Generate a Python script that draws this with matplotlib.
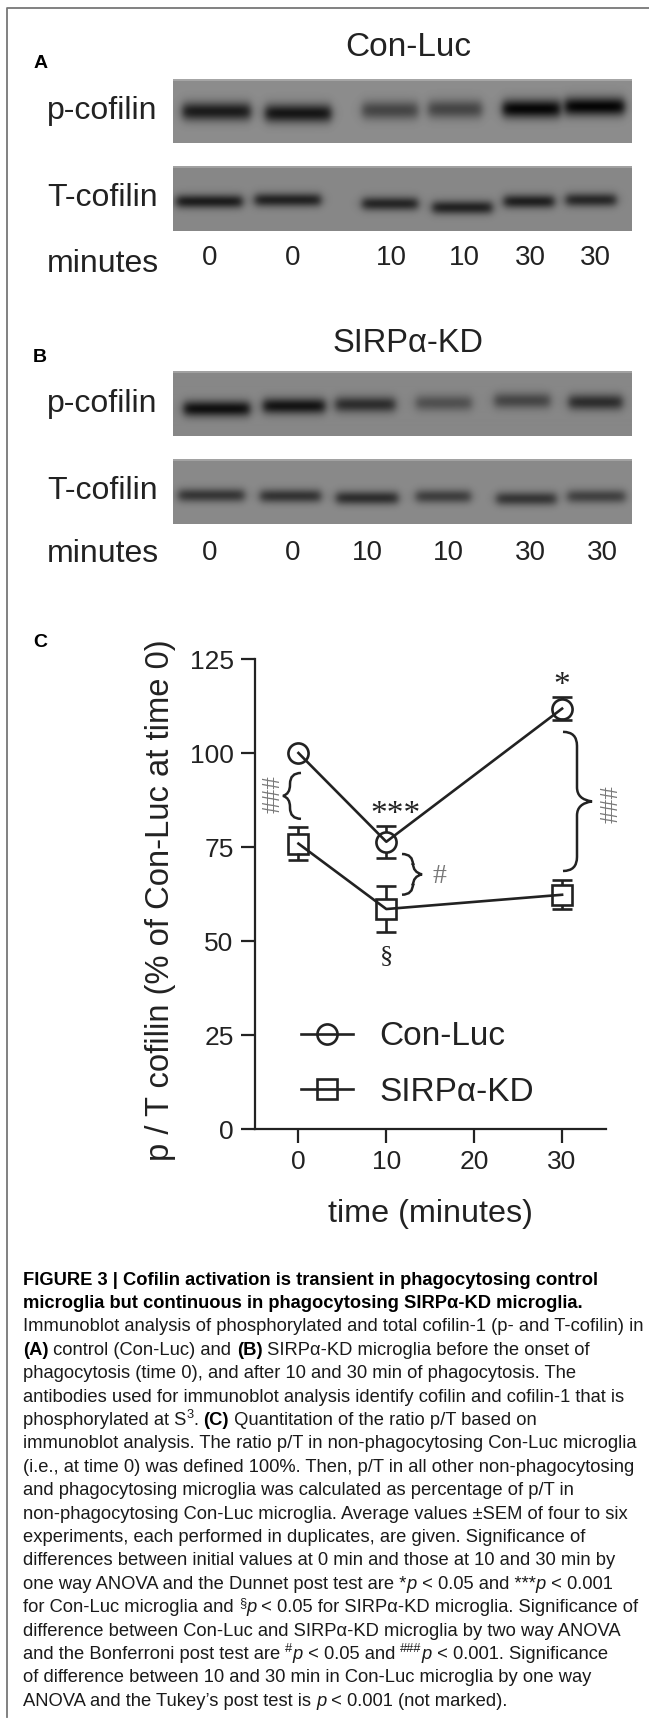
import numpy as np
import matplotlib
matplotlib.use('Agg')
import matplotlib.pyplot as plt
from matplotlib.lines import Line2D
from matplotlib.path import Path
from matplotlib.patches import PathPatch

plt.rcParams['font.family'] = ['Liberation Sans', 'DejaVu Sans']

# chart data
time = [0, 10, 30]
con_luc = [100, 76.4, 111.8]
con_luc_err = [0, 4.3, 3.1]
sirp_kd = [75.9, 58.5, 62.3]
sirp_kd_err = [4.3, 6.2, 3.9]
yticks = [0, 25, 50, 75, 100, 125]
xticks = [0, 10, 20, 30]

# band darkness per lane, 0 = nothing, 1 = black
a_p_bands = [0.80, 0.84, 0.50, 0.50, 0.95, 0.96]
a_t_bands = [0.78, 0.74, 0.72, 0.74, 0.76, 0.70]
b_p_bands = [0.88, 0.85, 0.66, 0.40, 0.48, 0.66]
b_t_bands = [0.60, 0.62, 0.66, 0.54, 0.60, 0.52]
a_minutes = ['0', '0', '10', '10', '30', '30']
b_minutes = ['0', '0', '10', '10', '30', '30']

W, H = 649, 1726
DARK = '#222222'

fig = plt.figure(figsize=(W / 100, H / 100), dpi=100)
bg = fig.add_axes([0, 0, 1, 1])
bg.set_xlim(0, W)
bg.set_ylim(H, 0)
bg.axis('off')

# grey frame
bg.plot([7, 7, W], [1717, 8, 8], color='#777777', lw=1.3)


def txt(x, y, s, size, ha='center', **kw):
    kw.setdefault('color', DARK)
    return bg.text(x, y, s, fontsize=size, ha=ha, va='center', **kw)


def blot(box, strengths, lanes, centers, thick, level=0.55):
    # grey strip with soft dark bands
    x0, x1, y0, y1 = box
    h, w = int(y1 - y0), int(x1 - x0)
    yy, xx = np.mgrid[y0:y1:h * 1j, x0:x1:w * 1j]
    im = np.full((h, w), 1.0)
    for s, (l, r), c in zip(strengths, lanes, centers):
        across = 0.5 * (np.tanh((xx - l) / 5) - np.tanh((xx - r) / 5))
        down = np.exp(-((yy - c) / thick) ** 2)
        im = im * (1 - s * across * down)
    im = im * level
    im[:2, :] = level + 0.1
    bg.imshow(im, cmap='gray', vmin=0, vmax=1, extent=[x0, x1, y1, y0],
              aspect='auto', interpolation='bilinear', zorder=1)


xs = lambda v: [(a / 2.416, b / 2.416) for a, b in v]
ys = lambda v: [a / 2.61 for a in v]

blot((173, 632, 79, 143), a_p_bands,
     xs([(440, 605), (640, 800), (875, 1010), (1035, 1165), (1215, 1355), (1365, 1510)]),
     ys([291, 296, 288, 285, 284, 278]), 9.5)
blot((173, 632, 166, 231), a_t_bands,
     xs([(425, 585), (615, 775), (875, 1010), (1045, 1190), (1218, 1340), (1368, 1490)]),
     ys([526, 522, 532, 542, 526, 522]), 7, level=0.53)
blot((173, 632, 372, 436), b_p_bands,
     xs([(443, 603), (635, 785), (810, 955), (1005, 1140), (1195, 1330), (1375, 1505)]),
     ys([1068, 1061, 1057, 1053, 1047, 1051]), 8, level=0.53)
blot((173, 632, 459, 524), b_t_bands,
     xs([(430, 590), (628, 775), (812, 962), (1005, 1138), (1200, 1345), (1372, 1512)]),
     ys([1293, 1295, 1300, 1296, 1302, 1296]), 7, level=0.54)
bg.set_xlim(0, W)
bg.set_ylim(H, 0)

txt(41, 63, 'A', 14, fontweight='bold', color='black')
txt(40, 357, 'B', 14, fontweight='bold', color='black')
txt(40, 642, 'C', 14, fontweight='bold', color='black')
txt(408, 47, 'Con-Luc', 24)
txt(408, 344, 'SIRP\u03b1-KD', 23.5)
for yy_, s in [(111, 'p-cofilin'), (198, 'T-cofilin'), (404, 'p-cofilin'), (491, 'T-cofilin')]:
    txt(47, yy_, s, 23, ha='left')
txt(47, 264, 'minutes', 23, ha='left')
txt(47, 554, 'minutes', 23, ha='left')
for x, s in zip([210, 293, 391, 464, 530, 595], a_minutes):
    txt(x, 258, s, 20)
for x, s in zip([210, 293, 367, 448, 530, 602], b_minutes):
    txt(x, 553, s, 20)

# panel C, axes box from the pixel positions of the spines
left, right, top, bottom = 254.5, 606, 659, 1129
ax = fig.add_axes([left / W, 1 - bottom / H, (right - left) / W, (bottom - top) / H])
ax.patch.set_alpha(0)
MS = 14.5
gap = 2.6  # half marker height in data units, whiskers stop at the marker
for y, err, m, first in [(con_luc, con_luc_err, 'o', 1), (sirp_kd, sirp_kd_err, 's', 0)]:
    ax.plot(time, y, color=DARK, lw=1.9, marker=m, ms=MS, mfc='none', mew=1.9, clip_on=False)
    ax.errorbar(time, y, yerr=err, fmt='none', ecolor=DARK, elinewidth=0, capsize=7, capthick=1.9,
                errorevery=(first, 1))
    low = np.array(y) - np.array(err)
    high = np.array(y) + np.array(err)
    for t, yv, lo, hi in zip(time[first:], y[first:], low[first:], high[first:]):
        ax.vlines([t, t], [lo, yv + gap], [yv - gap, hi], color=DARK, lw=1.9)
ax.set_xlim(-5, 35)
ax.set_ylim(0, 125)
ax.set_xticks(xticks)
ax.set_yticks(yticks)
ax.tick_params(labelsize=19, length=10, width=1.6, color=DARK, labelcolor=DARK, pad=5)
ax.spines[['top', 'right']].set_visible(False)
ax.spines[['left', 'bottom']].set_linewidth(1.6)
ax.spines[['left', 'bottom']].set_color(DARK)
ax.set_xlabel('time (minutes)', fontsize=23.3, color=DARK, labelpad=18)
ax.set_ylabel('p / T cofilin (% of Con-Luc at time 0)', fontsize=23.6, color=DARK)
ax.yaxis.set_label_coords(-0.223, 0.486)
handles = [Line2D([], [], color=DARK, lw=1.9, marker='o', ms=MS, mfc='none', mew=1.9),
           Line2D([], [], color=DARK, lw=1.9, marker='s', ms=MS, mfc='none', mew=1.9)]
ax.legend(handles, ['Con-Luc', 'SIRP\u03b1-KD'], loc='lower left', bbox_to_anchor=(0.132, 0.045),
          frameon=False, fontsize=24, handlelength=1.55, handletextpad=0.8, labelspacing=0.74,
          labelcolor=DARK, borderpad=0, borderaxespad=0)


def brace(x, y0, y1, w, tip):
    # curly brace, ends at x, tip pointing away by w+tip
    ym = (y0 + y1) / 2
    d = 1 if tip > 0 else -1
    xm = x + w * d
    r = min(abs(w), 14)
    verts = [(x, y0), (xm, y0), (xm, y0 + r), (xm, ym - r), (xm, ym - 2), (x + d * (abs(w) + abs(tip)), ym),
             (xm, ym + 2), (xm, ym + r), (xm, y1 - r), (xm, y1), (x, y1)]
    codes = [Path.MOVETO, Path.CURVE3, Path.CURVE3, Path.LINETO, Path.CURVE3, Path.CURVE3,
             Path.CURVE3, Path.CURVE3, Path.LINETO, Path.CURVE3, Path.CURVE3]
    bg.add_patch(PathPatch(Path(verts, codes), fc='none', ec=DARK, lw=1.8))


def py(z):
    return 620 + z / 2.53


brace(301, py(387), py(503), 11, -7)
brace(563, py(283), py(635), 14, 15)
brace(402, py(592), py(695), 11, 9)

GREY = '#777777'
serif = ['Liberation Serif', 'DejaVu Serif']
txt(273, py(440), '###', 18, rotation=90, color=GREY, family=serif)
txt(612, py(465), '###', 18, rotation=90, color=GREY, family=serif)
txt(439, py(650), '#', 20, color=GREY, family=serif)
txt(386, py(850), '\u00a7', 19, color=DARK, family=serif)
txt(395, py(492), '***', 24, color=DARK, family=serif)
txt(562, py(166), '*', 24, color=DARK, family=serif)

# caption, one list of (text, style) runs per line
B, R, I = 'bold', 'normal', 'italic'
caption = [
    [('FIGURE 3 | Cofilin activation is transient in phagocytosing control', B)],
    [('microglia but continuous in phagocytosing SIRP\u03b1-KD microglia.', B)],
    [('Immunoblot analysis of phosphorylated and total cofilin-1 (p- and T-cofilin) in', R)],
    [('(A)', B), (' control (Con-Luc) and ', R), ('(B)', B), (' SIRP\u03b1-KD microglia before the onset of', R)],
    [('phagocytosis (time 0), and after 10 and 30 min of phagocytosis. The', R)],
    [('antibodies used for immunoblot analysis identify cofilin and cofilin-1 that is', R)],
    [('phosphorylated at S', R), ('3', 'sup'), ('. ', R), ('(C)', B), (' Quantitation of the ratio p/T based on', R)],
    [('immunoblot analysis. The ratio p/T in non-phagocytosing Con-Luc microglia', R)],
    [('(i.e., at time 0) was defined 100%. Then, p/T in all other non-phagocytosing', R)],
    [('and phagocytosing microglia was calculated as percentage of p/T in', R)],
    [('non-phagocytosing Con-Luc microglia. Average values \u00b1SEM of four to six', R)],
    [('experiments, each performed in duplicates, are given. Significance of', R)],
    [('differences between initial values at 0 min and those at 10 and 30 min by', R)],
    [('one way ANOVA and the Dunnet post test are *', R), ('p', I), (' < 0.05 and ***', R), ('p', I), (' < 0.001', R)],
    [('for Con-Luc microglia and ', R), ('\u00a7', 'sup'), ('p', I), (' < 0.05 for SIRP\u03b1-KD microglia. Significance of', R)],
    [('difference between Con-Luc and SIRP\u03b1-KD microglia by two way ANOVA', R)],
    [('and the Bonferroni post test are ', R), ('#', 'sup'), ('p', I), (' < 0.05 and ', R), ('###', 'sup'), ('p', I), (' < 0.001. Significance', R)],
    [('of difference between 10 and 30 min in Con-Luc microglia by one way', R)],
    [('ANOVA and the Tukey\u2019s post test is ', R), ('p', I), (' < 0.001 (not marked).', R)],
]
CAP = 13.2
renderer = fig.canvas.get_renderer()
for i, line in enumerate(caption):
    x = 23
    y = 1280 + i * 23.4
    for s, style in line:
        kw = dict(fontsize=CAP, color='#1a1a1a', va='center', ha='left')
        yy_ = y
        if style == B:
            kw['fontweight'] = 'bold'
            kw['color'] = 'black'
            kw['fontsize'] = CAP * 1.005
        elif style == I:
            kw['fontstyle'] = 'italic'
        elif style == 'sup':
            kw['fontsize'] = CAP * 0.7
            yy_ = y - 5
        t = bg.text(x, yy_, s, **kw)
        x += t.get_window_extent(renderer).width

fig.savefig('out.png', dpi=100)
